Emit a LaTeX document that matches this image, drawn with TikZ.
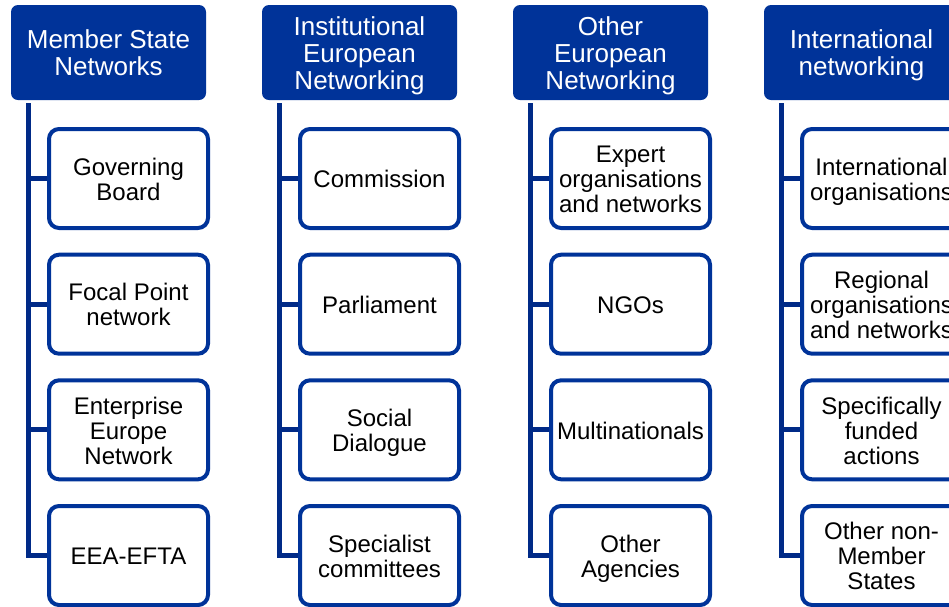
\documentclass[tikz,border=0pt]{standalone}
\usepackage{fontspec}
\setmainfont{Liberation Sans}
\usepackage{tikz}
\definecolor{netblue}{RGB}{0,51,153}
\definecolor{netline}{RGB}{0,42,135}
\newcommand\hup{\rule{0pt}{25pt}}% first line of a header
\newcommand\iup{\rule{0pt}{23.5pt}}% first line of an item
\tikzset{
  netbox/.style = {rectangle, align=center, inner sep=0pt, text centered},
  net_h/.style = {netbox, rounded corners=7pt, fill=netblue, text=white,
    minimum width=195pt, minimum height=95pt,
    font=\fontsize{26}{27}\selectfont,
    execute at end node={\rule[-5.5pt]{0pt}{5.5pt}}},% reseau, en-tete
  net_i/.style = {netbox, rounded corners=10pt, draw=netblue, fill=white,
    line width=4pt, minimum width=159pt, minimum height=99pt,
    font=\fontsize{24}{25}\selectfont,
    execute at end node={\rule[-5.1pt]{0pt}{5.1pt}}},% reseau, element
  net_l/.style = {draw=netline, line width=5pt}% reseau, lien
}
\begin{document}
\begin{tikzpicture}[x=1pt, y=-1pt]
\useasboundingbox (0,0) rectangle (949,606);
% column 1
\node [net_h] (h1) at (108.5,52.5) {\hup Member State\\Networks};
\node [net_i] (a1) at (128.5,178.5) {\iup Governing\\Board};
\node [net_i] (a2) at (128.5,304.2) {\iup Focal Point\\network};
\node [net_i] (a3) at (128.5,429.8) {\iup Enterprise\\Europe\\Network};
\node [net_i] (a4) at (128.5,555.5) {\iup EEA-EFTA};
% column 2
\node [net_h] (h2) at (359.5,52.5) {\hup Institutional\\European\\Networking};
\node [net_i] (b1) at (379.5,178.5) {\iup Commission};
\node [net_i] (b2) at (379.5,304.2) {\iup Parliament};
\node [net_i] (b3) at (379.5,429.8) {\iup Social\\Dialogue};
\node [net_i] (b4) at (379.5,555.5) {\iup Specialist\\committees};
% column 3
\node [net_h] (h3) at (610.5,52.5) {\hup Other\\European\\Networking};
\node [net_i] (c1) at (630.5,178.5) {\iup Expert\\organisations\\and networks};
\node [net_i] (c2) at (630.5,304.2) {\iup NGOs};
\node [net_i] (c3) at (630.5,429.8) {\iup Multinationals};
\node [net_i] (c4) at (630.5,555.5) {\iup Other\\Agencies};
% column 4
\node [net_h] (h4) at (861.5,52.5) {\hup International\\networking};
\node [net_i] (d1) at (881.5,178.5) {\iup International\\organisations};
\node [net_i] (d2) at (881.5,304.2) {\iup Regional\\organisations\\and networks};
\node [net_i] (d3) at (881.5,429.8) {\iup Specifically\\funded\\actions};
\node [net_i] (d4) at (881.5,555.5) {\iup Other non-\\Member\\States};
% spines
\coordinate (sa) at (28,103);
\coordinate (sb) at (279,103);
\coordinate (sc) at (530,103);
\coordinate (sd) at (781,103);
\foreach \s in {a,b,c,d}{
  \foreach \k in {1,2,3,4}
    \draw [net_l] (s\s) |- (\s\k.west);
}
\end{tikzpicture}
\end{document}
